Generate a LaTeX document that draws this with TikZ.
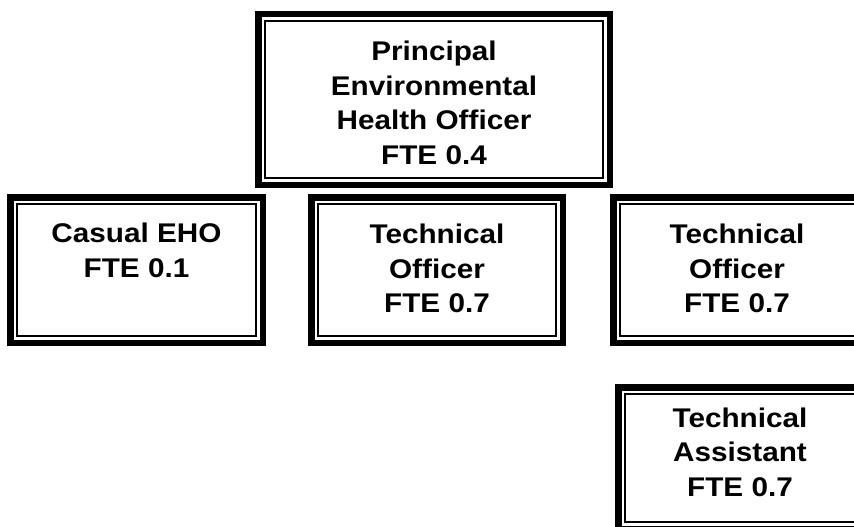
\documentclass[tikz,border=0pt]{standalone}
\usepackage{fontspec}
\setmainfont{Liberation Sans}[FakeStretch=1.1]
\begin{document}
\begin{tikzpicture}[x=1pt,y=-1pt,
  framebox/.style={draw=black, line width=6.5pt, inner sep=0pt, outer sep=0pt, fill=white},
  innerline/.style={draw=black, line width=1.4pt},
  boxtext/.style={anchor=north, inner sep=0pt, align=center,
    font=\bfseries\fontsize{27}{34.5}\selectfont}]
  \useasboundingbox (0,0) rectangle (854,527);
  \clip (0,0) rectangle (854,527);

  % frames: thick outer line with a thin line set just inside it
  \node[framebox, minimum width=351.5pt, minimum height=170.5pt] (peho) at (434,99.5) {};
  \node[framebox, minimum width=252.5pt, minimum height=145.5pt] (casual) at (136.5,270) {};
  \node[framebox, minimum width=251.5pt, minimum height=145.5pt] (techA) at (437,270) {};
  \node[framebox, minimum width=251.5pt, minimum height=145.5pt] (techB) at (739,270) {};
  \node[framebox, minimum width=246.5pt, minimum height=141.5pt] (assist) at (741.5,458) {};

  \foreach \b in {peho,casual,techA,techB,assist}{
    \draw[innerline] ([xshift=6.75pt,yshift=-6.75pt]\b.north west)
      rectangle ([xshift=-6.75pt,yshift=6.75pt]\b.south east);
  }

  % titles
  \node[boxtext] (peho-t) at (434,41) {Principal\\Environmental\\Health Officer\\FTE 0.4};
  \node[boxtext] (casual-t) at (136.5,223) {Casual EHO\\FTE 0.1};
  \node[boxtext] (techA-t) at (437,224) {Technical\\Officer\\FTE 0.7};
  \node[boxtext] (techB-t) at (737,224) {Technical\\Officer\\FTE 0.7};
  \node[boxtext] (assist-t) at (740,407.7) {Technical\\Assistant\\FTE 0.7};
\end{tikzpicture}
\end{document}
